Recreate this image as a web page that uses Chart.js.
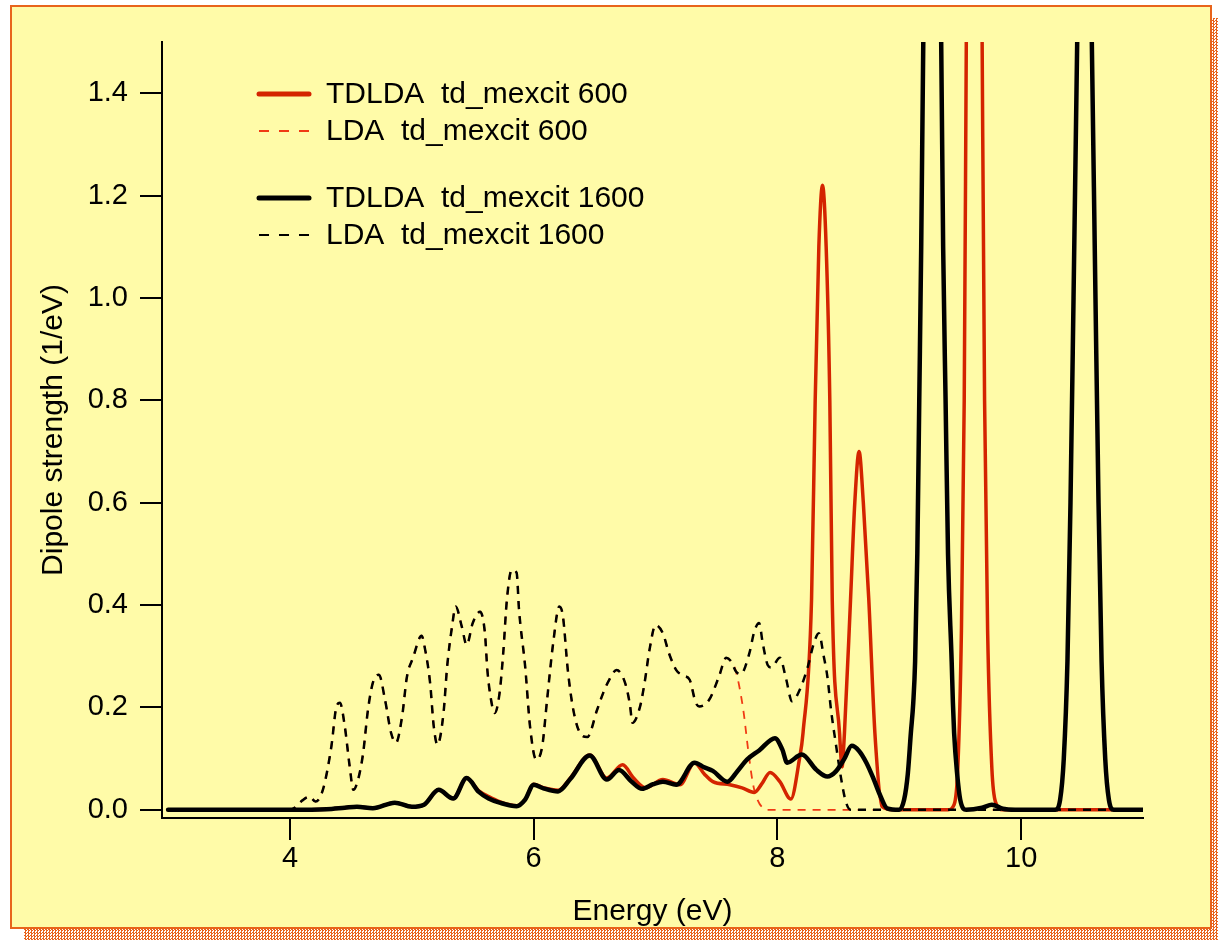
<!DOCTYPE html>
<html>
<head>
<meta charset="utf-8">
<title>Dipole strength</title>
<script src="https://cdn.jsdelivr.net/npm/chart.js@4.4.1/dist/chart.umd.min.js"></script>
<style>
  body { margin: 0; background: #fff; }
  #shadow {
    position: absolute; left: 24px; top: 18px; width: 1194px; height: 922px;
    background: repeating-conic-gradient(#e8641c 0 25%, #fff 0 50%) 0 0 / 3px 3px;
  }
  #frame {
    position: absolute; left: 10px; top: 5px; width: 1202px; height: 924px;
    box-sizing: border-box; background: #fffba8; border: 2px solid #e8641c;
  }
  #dipoleChart { position: absolute; left: 0; top: 0; }
</style>
</head>
<body>
<div id="shadow"></div>
<div id="frame"></div>
<canvas id="dipoleChart" width="1218" height="940"></canvas>
<script>
// TDLDA, td_mexcit 600
var energyTd600 = [3.0, 3.5, 4.0, 4.3, 4.45, 4.55, 4.68, 4.86, 5.0, 5.1, 5.22, 5.34, 5.45, 5.55, 5.63, 5.72, 5.86, 5.93,
  6.0, 6.08, 6.2, 6.3, 6.46, 6.6, 6.73, 6.82, 6.92, 7.06, 7.2, 7.32, 7.4, 7.47, 7.61, 7.71, 7.81, 7.87, 7.94, 8.02,
  8.11, 8.18, 8.21, 8.28, 8.31, 8.34, 8.37, 8.4, 8.43, 8.45, 8.51, 8.53, 8.55, 8.6, 8.635, 8.67, 8.705, 8.75, 8.8,
  8.86, 8.95, 9.4, 9.45, 9.48, 9.51, 9.533, 9.55, 9.615, 9.68, 9.7, 9.725, 9.76, 9.79, 9.85, 11.0];
var strengthTd600 = [0, 0, 0, 0.001, 0.004, 0.006, 0.003, 0.014, 0.006, 0.01, 0.039, 0.022, 0.062, 0.037, 0.026, 0.016, 0.008, 0.02,
  0.05, 0.043, 0.038, 0.062, 0.107, 0.062, 0.088, 0.062, 0.043, 0.059, 0.049, 0.092, 0.07, 0.055, 0.049, 0.043, 0.034, 0.05, 0.073, 0.055,
  0.021, 0.098, 0.15, 0.41, 0.8, 1.1, 1.22, 1.1, 0.8, 0.41, 0.15, 0.084, 0.15, 0.41, 0.6, 0.7, 0.6, 0.41, 0.15,
  0.006, 0, 0, 0.01, 0.08, 0.35, 0.8, 1.5, 4.0, 1.5, 0.8, 0.35, 0.08, 0.015, 0, 0];

// LDA, td_mexcit 600 (same as 1600 up to 7.62 eV)
var energyLda600Tail = [7.66, 7.72, 7.76, 7.8, 7.84, 7.88, 7.92, 11.0];
var strengthLda600Tail = [0.27, 0.195, 0.117, 0.05, 0.018, 0.004, 0, 0];

// TDLDA, td_mexcit 1600
var energyTd1600 = [3.0, 3.5, 4.0, 4.3, 4.45, 4.55, 4.68, 4.86, 5.0, 5.1, 5.22, 5.34, 5.45, 5.55, 5.63, 5.72, 5.86, 5.93,
  6.0, 6.08, 6.2, 6.3, 6.46, 6.6, 6.7, 6.8, 6.89, 6.98, 7.06, 7.17, 7.32, 7.4, 7.47, 7.59, 7.67, 7.75, 7.85, 7.98,
  8.04, 8.08, 8.2, 8.32, 8.41, 8.48, 8.55, 8.61, 8.67, 8.73, 8.79, 8.84, 8.9, 9.0, 9.04, 9.07, 9.095, 9.115, 9.13,
  9.148, 9.164, 9.18, 9.197, 9.27, 9.344, 9.36, 9.38, 9.40, 9.43, 9.44, 9.45, 9.475, 9.5, 9.55, 9.68, 9.76, 9.85,
  9.95, 10.28, 10.32, 10.35, 10.38, 10.405, 10.43, 10.46, 10.52, 10.58, 10.61, 10.635, 10.66, 10.69, 10.72, 10.76, 11.0];
var strengthTd1600 = [0, 0, 0, 0.001, 0.004, 0.006, 0.003, 0.014, 0.006, 0.01, 0.039, 0.022, 0.062, 0.035, 0.022, 0.014, 0.007, 0.02,
  0.049, 0.042, 0.036, 0.06, 0.106, 0.059, 0.078, 0.056, 0.041, 0.05, 0.055, 0.049, 0.092, 0.083, 0.076, 0.055, 0.075, 0.098, 0.116, 0.14,
  0.118, 0.092, 0.108, 0.078, 0.065, 0.075, 0.1, 0.125, 0.115, 0.092, 0.06, 0.03, 0.003, 0, 0.02, 0.07, 0.15, 0.21, 0.29,
  0.5, 0.8, 1.1, 1.5, 2.6, 1.5, 1.1, 0.8, 0.5, 0.29, 0.21, 0.15, 0.07, 0.02, 0, 0.004, 0.01, 0.002,
  0, 0, 0.02, 0.1, 0.29, 0.6, 1.0, 1.5, 2.4, 1.5, 1.0, 0.6, 0.29, 0.1, 0.02, 0, 0];

// LDA, td_mexcit 1600
var energyLda1600 = [3.0, 3.5, 4.0, 4.05, 4.1, 4.16, 4.21, 4.27, 4.34, 4.38, 4.41, 4.45, 4.49, 4.52, 4.56, 4.6, 4.64, 4.68,
  4.73, 4.78, 4.83, 4.87, 4.92, 4.96, 5.01, 5.08, 5.11, 5.15, 5.18, 5.21, 5.26, 5.29, 5.33, 5.36, 5.41, 5.45, 5.5,
  5.56, 5.6, 5.62, 5.65, 5.68, 5.72, 5.75, 5.78, 5.82, 5.86, 5.88, 5.93, 5.97, 6.02, 6.07, 6.11, 6.16, 6.21, 6.24,
  6.28, 6.32, 6.37, 6.44, 6.52, 6.57, 6.62, 6.68, 6.75, 6.79, 6.81, 6.87, 6.91, 6.95, 7.0, 7.06, 7.11, 7.17, 7.23,
  7.28, 7.33, 7.36, 7.44, 7.52, 7.58, 7.62, 7.66, 7.7, 7.77, 7.81, 7.85, 7.88, 7.92, 7.95, 8.02, 8.07, 8.12, 8.19,
  8.25, 8.3, 8.34, 8.38, 8.41, 8.44, 8.48, 8.52, 8.56, 8.6, 9.0, 11.0];
var strengthLda1600 = [0, 0, 0, 0.006, 0.018, 0.026, 0.016, 0.039, 0.124, 0.2, 0.209, 0.163, 0.085, 0.039, 0.06, 0.11, 0.195, 0.248,
  0.264, 0.215, 0.15, 0.131, 0.182, 0.26, 0.297, 0.34, 0.312, 0.248, 0.163, 0.127, 0.189, 0.28, 0.358, 0.397, 0.358, 0.322, 0.365,
  0.387, 0.345, 0.273, 0.215, 0.189, 0.228, 0.306, 0.41, 0.469, 0.463, 0.39, 0.28, 0.163, 0.098, 0.124, 0.215, 0.326, 0.397, 0.378,
  0.273, 0.202, 0.155, 0.142, 0.195, 0.228, 0.254, 0.273, 0.248, 0.205, 0.17, 0.199, 0.248, 0.312, 0.361, 0.345, 0.306, 0.273, 0.262,
  0.254, 0.209, 0.202, 0.215, 0.26, 0.297, 0.29, 0.27, 0.265, 0.306, 0.348, 0.365, 0.325, 0.283, 0.278, 0.297, 0.257, 0.212, 0.238,
  0.28, 0.326, 0.345, 0.3, 0.26, 0.195, 0.128, 0.065, 0.017, 0, 0, 0];

var seriesLabels = ['TDLDA  td_mexcit 600', 'LDA  td_mexcit 600', 'TDLDA  td_mexcit 1600', 'LDA  td_mexcit 1600'];
var xTicks = [4, 6, 8, 10];
var yTicks = [0, 0.2, 0.4, 0.6, 0.8, 1.0, 1.2, 1.4];

function points(xs, ys) {
  return xs.map(function (x, i) { return { x: x, y: ys[i] }; });
}

// LDA 600 follows the 1600 run until it is cut off
var energyLda600 = energyLda1600.filter(function (e) { return e <= 7.62; }).concat(energyLda600Tail);
var strengthLda600 = strengthLda1600.slice(0, energyLda600.length - energyLda600Tail.length).concat(strengthLda600Tail);

var font = "'Liberation Sans', Arial, sans-serif";
var red = '#d42400';
var dash = [8, 7];

// legend drawn inside the plot, upper left, with a gap between the two pairs
var insideLegend = {
  id: 'insideLegend',
  afterDraw: function (chart) {
    var ctx = chart.ctx;
    var rows = [94, 131, 198, 235];
    ctx.save();
    ctx.font = '30px ' + font;
    ctx.textBaseline = 'middle';
    ctx.fillStyle = '#000';
    chart.data.datasets.forEach(function (ds, i) {
      var y = rows[i];
      ctx.beginPath();
      ctx.strokeStyle = ds.borderColor;
      if (ds.borderDash) {
        ctx.lineWidth = 2;
        ctx.lineCap = 'butt';
        ctx.setLineDash([10, 10]);
      } else {
        ctx.lineWidth = 5;
        ctx.lineCap = 'round';
        ctx.setLineDash([]);
      }
      ctx.moveTo(259, y);
      ctx.lineTo(309, y);
      ctx.stroke();
      ctx.fillText(ds.label, 326, y + 1);
    });
    ctx.restore();
  }
};

new Chart(document.getElementById('dipoleChart'), {
  type: 'line',
  data: {
    datasets: [
      {
        label: seriesLabels[0],
        data: points(energyTd600, strengthTd600),
        borderColor: red,
        borderWidth: 3.5,
        borderCapStyle: 'round',
        borderJoinStyle: 'round',
        order: 2
      },
      {
        label: seriesLabels[1],
        data: points(energyLda600, strengthLda600),
        borderColor: '#f03a14',
        borderWidth: 1.8,
        borderDash: dash,
        order: 3
      },
      {
        label: seriesLabels[2],
        data: points(energyTd1600, strengthTd1600),
        borderColor: '#000',
        borderWidth: 4.5,
        borderCapStyle: 'round',
        borderJoinStyle: 'round',
        order: 0
      },
      {
        label: seriesLabels[3],
        data: points(energyLda1600, strengthLda1600),
        borderColor: '#000',
        borderWidth: 2.5,
        borderDash: dash,
        order: 1
      }
    ]
  },
  options: {
    responsive: false,
    animation: false,
    devicePixelRatio: 1,
    layout: { padding: { top: 42, right: 75, bottom: 0, left: 0 } },
    elements: {
      point: { radius: 0 },
      line: { cubicInterpolationMode: 'monotone', fill: false }
    },
    plugins: {
      legend: { display: false },
      tooltip: { enabled: false }
    },
    scales: {
      x: {
        type: 'linear',
        min: 2.95,
        max: 11,
        afterBuildTicks: function (axis) { axis.ticks = xTicks.map(function (v) { return { value: v }; }); },
        afterFit: function (axis) { axis.height = 122; },
        border: { display: true, color: '#000', width: 2 },
        grid: { drawOnChartArea: false, color: '#000', lineWidth: 2, tickLength: 22 },
        ticks: { color: '#000', padding: 2, font: { family: font, size: 29 }, maxRotation: 0 },
        title: { display: true, text: 'Energy (eV)', color: '#000', font: { family: font, size: 30 }, padding: { top: 0, bottom: 10 } }
      },
      y: {
        min: -0.016,
        max: 1.5,
        afterBuildTicks: function (axis) { axis.ticks = yTicks.map(function (v) { return { value: v }; }); },
        afterFit: function (axis) { axis.width = 162; },
        border: { display: true, color: '#000', width: 2 },
        grid: { drawOnChartArea: false, color: '#000', lineWidth: 2, tickLength: 22 },
        ticks: {
          color: '#000', padding: 12, font: { family: font, size: 29 },
          callback: function (v) { return v.toFixed(1); }
        },
        title: { display: true, text: 'Dipole strength (1/eV)', color: '#000', font: { family: font, size: 30 }, padding: { top: 36, bottom: 0 } }
      }
    }
  },
  plugins: [insideLegend]
});
</script>
</body>
</html>
